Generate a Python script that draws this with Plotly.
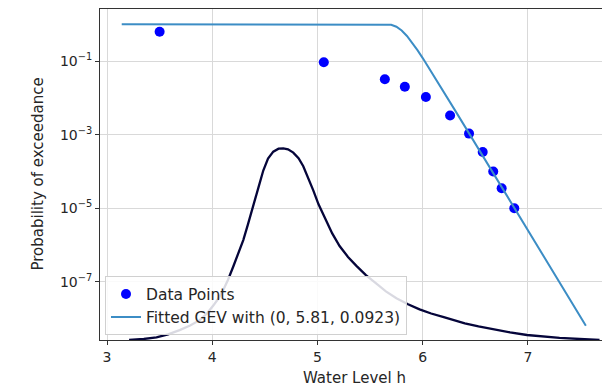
import plotly.graph_objects as go

# Data points (water level, exceedance probability)
data_x = [3.50, 5.06, 5.64, 5.83, 6.03, 6.26, 6.44, 6.57, 6.67, 6.75, 6.87]
data_p = [0.62, 0.093, 0.032, 0.020, 0.0105, 0.0033, 0.00107, 3.4e-4, 1.0e-4, 3.5e-5, 1.0e-5]

# Fitted GEV exceedance curve
fit_x = [3.14, 4.0, 5.0, 5.4, 5.6, 5.65, 5.7, 5.75, 5.8, 5.85, 5.9, 5.95, 6.0,
         6.1, 6.2, 6.3, 6.4, 6.5, 6.6, 6.7, 6.8, 6.9, 7.0, 7.2, 7.4, 7.55]
fit_p = [1.0, 1.0, 1.0, 1.0, 0.99994, 0.993, 0.963, 0.853, 0.672, 0.477, 0.314, 0.197, 0.120,
         0.0423, 0.0145, 0.00494, 0.00168, 5.67e-4, 1.92e-4, 6.50e-5, 2.20e-5, 7.45e-6,
         2.52e-6, 2.89e-7, 3.30e-8, 6.5e-9]

# Density-like curve on a hidden secondary axis (relative height)
pdf_x = [3.21, 3.35, 3.47, 3.58, 3.69, 3.79, 3.88, 3.95, 4.01, 4.06, 4.105, 4.15, 4.20,
         4.25, 4.295, 4.34, 4.39, 4.44, 4.485, 4.53, 4.58, 4.63, 4.675, 4.72, 4.77, 4.82,
         4.865, 4.91, 4.96, 5.01, 5.07, 5.14, 5.21, 5.29, 5.37, 5.46, 5.56, 5.65, 5.75,
         5.86, 5.97, 6.08, 6.20, 6.30, 6.40, 6.53, 6.67, 6.83, 6.99, 7.15, 7.30, 7.49, 7.68]
pdf_y = [0.0, 0.003, 0.008, 0.017, 0.030, 0.044, 0.060, 0.080, 0.104, 0.126, 0.151, 0.182,
         0.222, 0.262, 0.302, 0.350, 0.403, 0.462, 0.512, 0.548, 0.569, 0.578, 0.579, 0.576,
         0.566, 0.549, 0.525, 0.492, 0.452, 0.410, 0.368, 0.322, 0.284, 0.251, 0.224, 0.196,
         0.170, 0.147, 0.126, 0.108, 0.0927, 0.080, 0.0690, 0.0590, 0.0505, 0.0410, 0.0323,
         0.0230, 0.0151, 0.0100, 0.0065, 0.0030, 0.0]

ytick_vals = [1e-1, 1e-3, 1e-5, 1e-7]
ytick_text = ["10<sup>\u22121</sup>", "10<sup>\u22123</sup>", "10<sup>\u22125</sup>", "10<sup>\u22127</sup>"]
xtick_vals = [3, 4, 5, 6, 7]

fig = go.Figure()
fig.add_trace(go.Scatter(x=data_x, y=data_p, mode="markers", name="Data Points",
                         marker=dict(color="#0000ff", size=10)))
fig.add_trace(go.Scatter(x=fit_x, y=fit_p, mode="lines",
                         name="Fitted GEV with (0, 5.81, 0.0923)",
                         line=dict(color="#3c8dc5", width=2)))
fig.add_trace(go.Scatter(x=pdf_x, y=pdf_y, mode="lines", yaxis="y2", showlegend=False,
                         line=dict(color="#05053a", width=2.3)))

txt = "#262626"
fig.update_layout(
    width=602, height=380,
    margin=dict(l=92, r=1, t=1, b=48),
    paper_bgcolor="white", plot_bgcolor="white",
    font=dict(family="DejaVu Sans", size=14, color=txt),
    xaxis=dict(range=[2.9335, 7.770], tickvals=xtick_vals, ticks="outside", ticklen=4,
               tickcolor="#333", showgrid=True, gridcolor="#d9d9d9", gridwidth=1,
               showline=True, linecolor="#333", linewidth=1, mirror=True, zeroline=False,
               automargin=False, tickfont=dict(size=14, color=txt)),
    yaxis=dict(type="log", range=[-8.575, 0.412], tickvals=ytick_vals, ticktext=ytick_text,
               ticks="outside", ticklen=4, tickcolor="#333", showgrid=True, gridcolor="#d9d9d9",
               gridwidth=1, showline=True, linecolor="#333", linewidth=1, mirror=True,
               zeroline=False, automargin=False, tickfont=dict(size=14, color=txt)),
    yaxis2=dict(overlaying="y", range=[0, 1], visible=False, fixedrange=True),
    legend=dict(x=0.0098, y=0.014, xanchor="left", yanchor="bottom",
                bgcolor="rgba(255,255,255,0.85)", bordercolor="#d0d0d0", borderwidth=1,
                font=dict(size=15.5, color=txt), tracegroupgap=0, itemwidth=30),
    annotations=[
        dict(text="Water Level h", xref="paper", yref="paper", x=0.5, y=0,
             yshift=-38, xanchor="center", yanchor="middle", showarrow=False,
             font=dict(size=15, color=txt)),
        dict(text="Probability of exceedance", xref="paper", yref="paper", x=0, y=0.5,
             xshift=-63, xanchor="center", yanchor="middle", showarrow=False, textangle=-90,
             font=dict(size=15, color=txt)),
    ],
    showlegend=True,
)

fig.write_html("out.html")
